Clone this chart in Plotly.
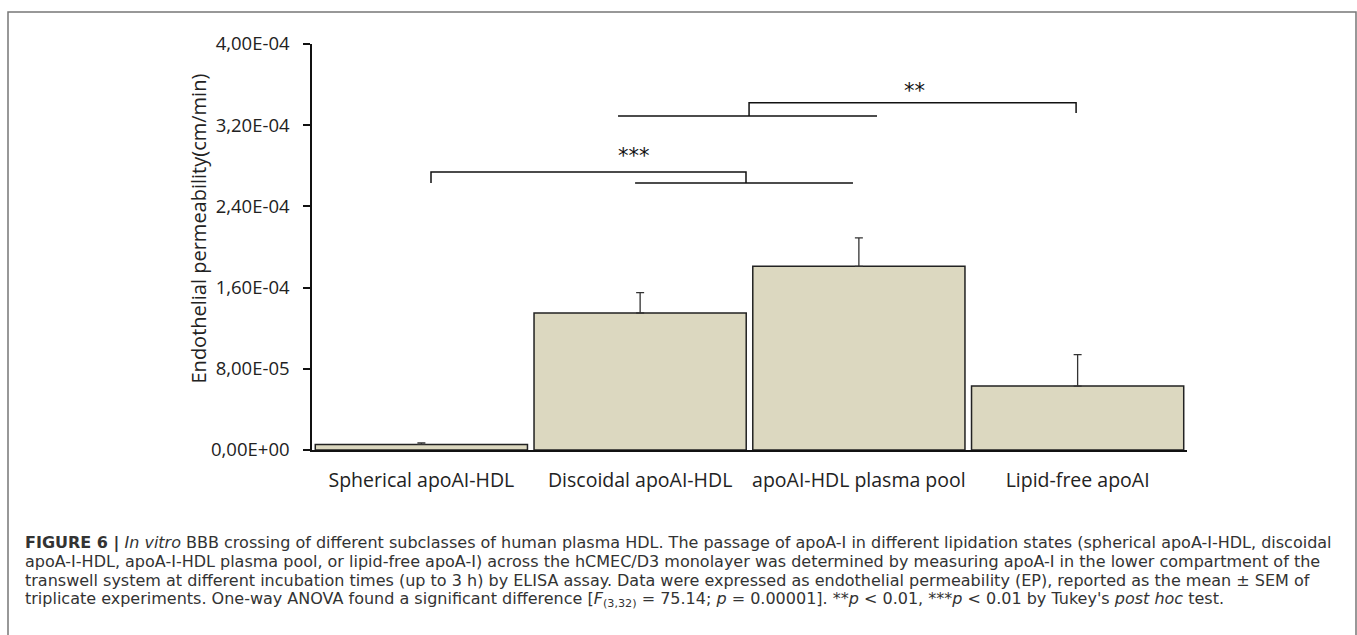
import plotly.graph_objects as go

# ---- data ----
categories = ["Spherical apoAI-HDL", "Discoidal apoAI-HDL", "apoAI-HDL plasma pool", "Lipid-free apoAI"]
values = [5.5e-6, 1.35e-4, 1.81e-4, 6.3e-5]
sem = [1.5e-6, 2.0e-5, 2.8e-5, 3.1e-5]
tick_vals = [0, 8e-5, 1.6e-4, 2.4e-4, 3.2e-4, 4e-4]
tick_text = ["0,00E+00", "8,00E-05", "1,60E-04", "2,40E-04", "3,20E-04", "4,00E-04"]

caption_lines = [
    "<b>FIGURE 6 |</b> <i>In vitro</i> BBB crossing of different subclasses of human plasma HDL. The passage of apoA-I in different lipidation states (spherical apoA-I-HDL, discoidal",
    "apoA-I-HDL, apoA-I-HDL plasma pool, or lipid-free apoA-I) across the hCMEC/D3 monolayer was determined by measuring apoA-I in the lower compartment of the",
    "transwell system at different incubation times (up to 3 h) by ELISA assay. Data were expressed as endothelial permeability (EP), reported as the mean \u00b1 SEM of",
    "triplicate experiments. One-way ANOVA found a significant difference [<i>F</i><sub>(3,32)</sub> = 75.14; <i>p</i> = 0.00001]. **<i>p</i> &lt; 0.01, ***<i>p</i> &lt; 0.01 by Tukey's <i>post hoc</i> test.",
]

# significance brackets (category-index x, data y)
brackets = [
    dict(xl=0.044, xr=1.484, y=2.74e-4, yl=2.63e-4, yr=2.63e-4, label="***", lx=0.972, ly=2.90e-4),
    dict(xl=1.498, xr=2.993, y=3.42e-4, yl=3.29e-4, yr=3.32e-4, label="**", lx=2.252, ly=3.54e-4),
]
lower_lines = [
    dict(x0=0.977, x1=1.973, y=2.63e-4),
    dict(x0=0.899, x1=2.083, y=3.29e-4),
]

W, H = 1357, 635
L, R, T, B = 312, 170, 44, 185
pw, ph = W - L - R, H - T - B

def px(x):
    return (x - L) / pw

def py(y):
    return (H - B - y) / ph

fig = go.Figure()
fig.add_trace(go.Bar(
    x=list(range(len(categories))), y=values,
    marker=dict(color="#DCD8C0", line=dict(color="#222222", width=1.5)),
    error_y=dict(type="data", array=sem, arrayminus=[0] * len(sem), symmetric=False,
                 color="#333333", thickness=1.3, width=4),
    width=0.97,
))

shapes = []
for b in brackets:
    shapes.append(dict(type="path", xref="x", yref="y",
                       path=f"M {b['xl']} {b['yl']} L {b['xl']} {b['y']} L {b['xr']} {b['y']} L {b['xr']} {b['yr']}",
                       line=dict(color="#111111", width=1.5)))
for ln in lower_lines:
    shapes.append(dict(type="line", xref="x", yref="y", x0=ln["x0"], x1=ln["x1"], y0=ln["y"], y1=ln["y"],
                       line=dict(color="#111111", width=1.5)))
# outer frame
shapes.append(dict(type="rect", xref="paper", yref="paper", x0=px(8), x1=px(1356), y0=py(645), y1=py(12),
                   line=dict(color="#777777", width=1.5), layer="below"))

annotations = []
for b in brackets:
    annotations.append(dict(x=b["lx"], y=b["ly"], xref="x", yref="y", text=b["label"], showarrow=False,
                            font=dict(family="DejaVu Sans", size=21, color="#111111"), yanchor="middle"))
# y title
annotations.append(dict(x=px(182), y=py(229), xref="paper", yref="paper", text="Endothelial permeability(cm/min)",
                        showarrow=False, textangle=-90, font=dict(family="Open Sans", size=20, color="#222222")))
# caption
for i, line in enumerate(caption_lines):
    annotations.append(dict(x=px(23), y=py(543 + i * 18.7), xref="paper", yref="paper", text=line,
                            showarrow=False, xanchor="left", yanchor="middle", align="left",
                            font=dict(family="DejaVu Sans", size=16, color="#333333")))

fig.update_layout(
    width=W, height=H,
    margin=dict(l=L, r=R, t=T, b=B, pad=0),
    paper_bgcolor="white", plot_bgcolor="white",
    showlegend=False,
    bargap=0.03,
    shapes=shapes, annotations=annotations,
    font=dict(family="Open Sans", color="#222222"),
    xaxis=dict(range=[-0.5, 3.5], tickvals=list(range(len(categories))), ticktext=categories,
               showline=True, linecolor="#111111", linewidth=1.5, ticks="", showgrid=False, zeroline=False,
               tickfont=dict(family="Open Sans", size=19.5, color="#222222"), ticklabelstandoff=12),
    yaxis=dict(range=[0, 4e-4], tickvals=tick_vals, ticktext=tick_text,
               showline=True, linecolor="#111111", linewidth=1.5, ticks="outside", ticklen=7,
               tickcolor="#111111", tickwidth=1.5, showgrid=False, zeroline=False,
               tickfont=dict(family="Open Sans", size=18.5, color="#222222"), ticklabelstandoff=10),
)

fig.write_html("out.html", config={"displayModeBar": False},
               post_script="document.body.style.margin='0';document.body.style.padding='0';")
